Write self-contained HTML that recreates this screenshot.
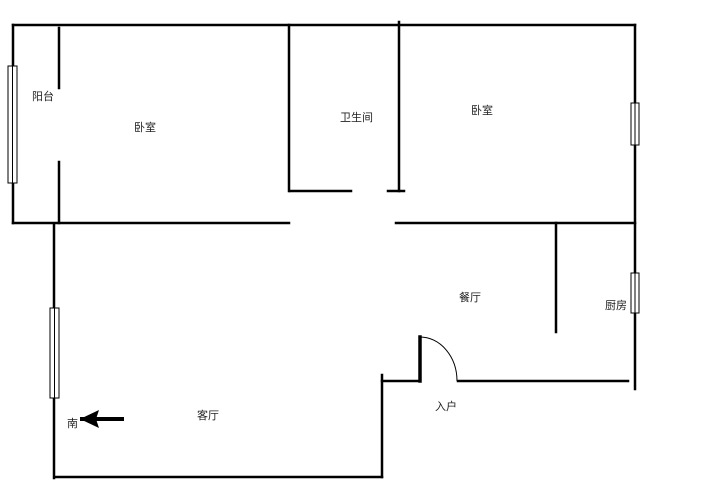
<!DOCTYPE html>
<html><head><meta charset="utf-8"><style>
html,body{margin:0;padding:0;background:#fff;width:720px;height:494px;overflow:hidden}
svg text{font-family:"Liberation Sans","Noto Sans CJK SC",sans-serif;font-size:11px;fill:#222}
</style></head><body>
<svg width="720" height="494" viewBox="0 0 720 494" xmlns="http://www.w3.org/2000/svg">
<g stroke="#000" stroke-width="2.5" fill="none" stroke-linecap="square">
<line x1="13" y1="25" x2="635" y2="25"/>
<line x1="13" y1="25" x2="13" y2="223"/>
<line x1="59" y1="28" x2="59" y2="88"/>
<line x1="59" y1="162" x2="59" y2="223"/>
<line x1="13" y1="223" x2="289" y2="223"/>
<line x1="289" y1="25" x2="289" y2="191"/>
<line x1="290" y1="191" x2="351" y2="191"/>
<line x1="388" y1="191" x2="404" y2="191"/>
<line x1="399" y1="22" x2="399" y2="191"/>
<line x1="635" y1="25" x2="635" y2="389"/>
<line x1="396" y1="223" x2="635" y2="223"/>
<line x1="556" y1="223" x2="556" y2="332"/>
<line x1="54" y1="224" x2="54" y2="478"/>
<line x1="55" y1="477" x2="382" y2="477"/>
<line x1="382" y1="375" x2="382" y2="477"/>
<line x1="382" y1="381" x2="420" y2="381"/>
<line x1="420" y1="337" x2="420" y2="381" stroke-width="3.5"/>
<line x1="458" y1="381" x2="628" y2="381"/>
<line x1="82" y1="419" x2="122" y2="419" stroke-width="4"/>
</g>
<path d="M420 337 A37 44 0 0 1 457 381" stroke="#000" stroke-width="1" fill="none"/>
<polygon points="80,419 99,410 96,419 99,428" fill="#000"/>
<g stroke="#000" stroke-width="1" fill="#fff">
<rect x="8" y="66" width="9" height="117"/><line x1="12.5" y1="66" x2="12.5" y2="183"/>
<rect x="50" y="308" width="9" height="90"/><line x1="54.5" y1="308" x2="54.5" y2="398"/>
<rect x="631" y="103" width="8" height="42"/><line x1="635" y1="103" x2="635" y2="145"/>
<rect x="631" y="273" width="8" height="40"/><line x1="635" y1="273" x2="635" y2="313"/>
</g>
<text x="32" y="100">阳台</text>
<text x="134" y="131">卧室</text>
<text x="340" y="121">卫生间</text>
<text x="471" y="114">卧室</text>
<text x="459" y="301">餐厅</text>
<text x="605" y="309">厨房</text>
<text x="435" y="410">入户</text>
<text x="197" y="419">客厅</text>
<text x="67" y="427">南</text>
</svg>
</body></html>
